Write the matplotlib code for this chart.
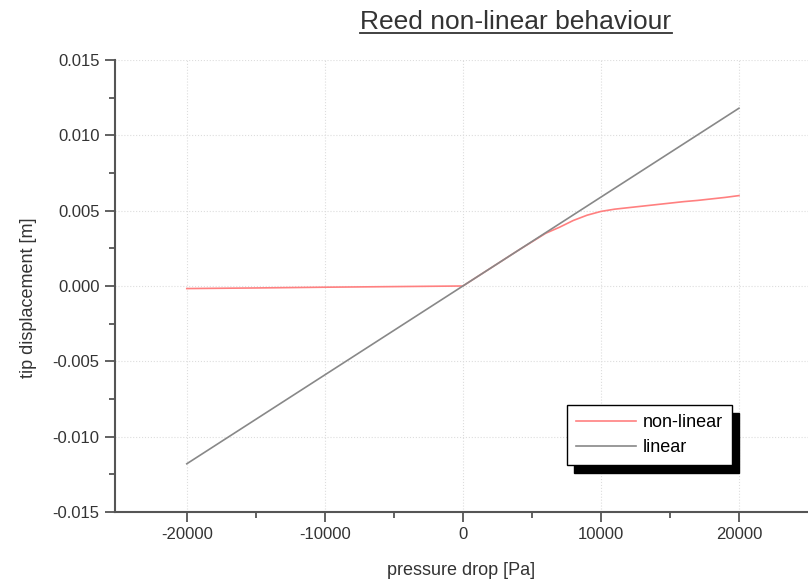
import numpy as np
import matplotlib
matplotlib.use("Agg")
import matplotlib.pyplot as plt
from matplotlib.patches import Rectangle
from matplotlib.lines import Line2D
from matplotlib.transforms import IdentityTransform

plt.rcParams['font.family'] = ['Liberation Sans', 'DejaVu Sans']
plt.rcParams['axes.unicode_minus'] = False

# values
pressure_lin = [-20000, 20000]
disp_lin = [-0.0118, 0.0118]

pressure_nl = [-20000, -15000, -10000, -5000, 0, 2000, 4000, 6000, 7000,
               8000, 9000, 10000, 11000, 12000, 13000, 14000, 15000, 16000,
               17000, 18000, 19000, 20000]
disp_nl = [-0.00017, -0.00013, -0.00008, -0.00004, 0.0, 0.00118, 0.00236,
           0.0035, 0.0039, 0.00435, 0.0047, 0.00495, 0.0051, 0.0052, 0.0053,
           0.0054, 0.0055, 0.0056, 0.00568, 0.00578, 0.00588, 0.0060]

W, H = 808, 580
fig = plt.figure(figsize=(W / 100, H / 100), dpi=100)
ax = fig.add_axes([115 / W, 1 - 512 / H, 1 - 115 / W, (512 - 60) / H])

ax.plot(pressure_nl, disp_nl, color='#ff8080', lw=1.2, label='non-linear', zorder=3)
ax.plot(pressure_lin, disp_lin, color='#888888', lw=1.2, label='linear', zorder=3)

ax.set_xlim(-25200, 25000)
ax.set_ylim(-0.015, 0.015)
ax.set_xticks([-20000, -10000, 0, 10000, 20000])
ax.set_xticks([-15000, -5000, 5000, 15000], minor=True)
ax.set_yticks(np.arange(-0.015, 0.0151, 0.005))
ax.set_yticks(np.arange(-0.0125, 0.013, 0.005), minor=True)
ax.yaxis.set_major_formatter(matplotlib.ticker.FormatStrFormatter('%.3f'))
ax.grid(True, which='major', ls=':', color='#dddddd', lw=0.8, zorder=0)

for s in ['top', 'right']:
    ax.spines[s].set_visible(False)
for s in ['left', 'bottom']:
    ax.spines[s].set_color('#555555')
    ax.spines[s].set_linewidth(1.5)
ax.tick_params(which='major', direction='out', length=7, width=1.3, pad=4,
               color='#555555', labelsize=12, labelcolor='#333333')
ax.tick_params(which='minor', direction='out', length=4, width=1.3, color='#555555')

ax.set_xlabel('pressure drop [Pa]', fontsize=13, color='#333333', labelpad=14)
ax.set_ylabel('tip displacement [m]', fontsize=13, color='#333333')
ax.yaxis.set_label_coords(-0.113, 0.475)

title = fig.text(516 / W, 1 - 22 / H, 'Reed non-linear behaviour', ha='center',
                 va='center', fontsize=19, color='#333333')

leg = ax.legend(loc='upper left', bbox_to_anchor=(567 / W, 1 - 405 / H),
                bbox_transform=fig.transFigure, borderaxespad=0, fancybox=False,
                edgecolor='black', framealpha=1, fontsize=13, handlelength=3.3,
                handletextpad=0.4, borderpad=0.5, labelspacing=0.45)
leg.get_frame().set_linewidth(1.0)
leg.set_zorder(6)

fig.canvas.draw()
r = fig.canvas.get_renderer()
lb = leg.get_window_extent(r)
ax.add_patch(Rectangle((lb.x0 + 7, lb.y0 - 8), lb.width, lb.height,
                       transform=IdentityTransform(), facecolor='black',
                       edgecolor='black', zorder=5, clip_on=False))
tb = title.get_window_extent(r)
fig.lines.append(Line2D([tb.x0 / W, tb.x1 / W], [(tb.y0 + 1) / H] * 2,
                        transform=fig.transFigure, color='#333333', lw=1.3))

fig.savefig('out.png', dpi=100)
